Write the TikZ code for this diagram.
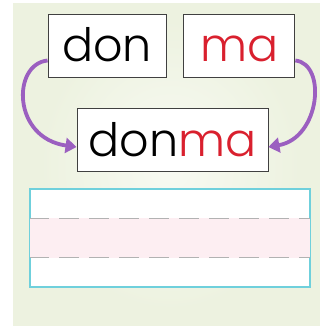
\documentclass[tikz,border=0pt]{standalone}
\usepackage{fontspec}
\setmainfont{Poppins}[UprightFont=* Light]
\usetikzlibrary{positioning, arrows.meta}
\definecolor{panelgreen}{HTML}{EDF2E0}
\definecolor{wordred}{HTML}{D9202E}
\definecolor{arrowpurple}{HTML}{9B5FC0}
\definecolor{bandcyan}{HTML}{6FD0DC}
\definecolor{bandpink}{HTML}{FDEEF2}
\tikzset{
  word/.style={draw=black!75, line width=0.9pt, fill=white, minimum height=63pt, inner sep=0pt,
    font=\fontsize{46}{46}\selectfont, text height=33pt, text depth=0pt},
  arr/.style={-{Triangle[length=11pt, width=15pt]}, line width=3.8pt, arrowpurple},
  guide/.style={dashed, dash pattern=on 20pt off 10pt, gray!60, line width=0.9pt}
}

\begin{document}
\begin{tikzpicture}[x=1pt, y=-1pt, node distance=17pt]
\useasboundingbox (0,0) rectangle (320,331);
% panel
\fill[panelgreen] (13,3) rectangle (320,326);
\shade[inner color=white!60!panelgreen, outer color=panelgreen] (40,20) rectangle (300,310);
% syllables
\node[word, minimum width=118pt] (don) at (107,45.5) {don};
\node[word, minimum width=111pt, right=of don] (ma) {\textcolor{wordred}{ma}};
\node[word, minimum width=191pt] (donma) at (172.5,140) {don\textcolor{wordred}{ma}};
\draw[arr] ([yshift=-15pt]don.west) .. controls (12,64) and (12,138) .. ([yshift=-7pt]donma.west);
\draw[arr] ([yshift=-15pt]ma.east) .. controls (327,64) and (320,138) .. ([yshift=-7pt]donma.east);
% writing band
\node[draw=bandcyan, line width=1.3pt, fill=white, minimum width=280pt, minimum height=98pt, inner sep=0pt] (band) at (170,238) {};
\fill[bandpink] ([yshift=-30pt]band.north west) rectangle ([yshift=30pt]band.south east);
\draw[guide] ([yshift=-30pt]band.north west) -- ([yshift=-30pt]band.north east);
\draw[guide] ([yshift=30pt]band.south west) -- ([yshift=30pt]band.south east);
\draw[bandcyan, line width=1.3pt] (band.north west) rectangle (band.south east);
\end{tikzpicture}
\end{document}
